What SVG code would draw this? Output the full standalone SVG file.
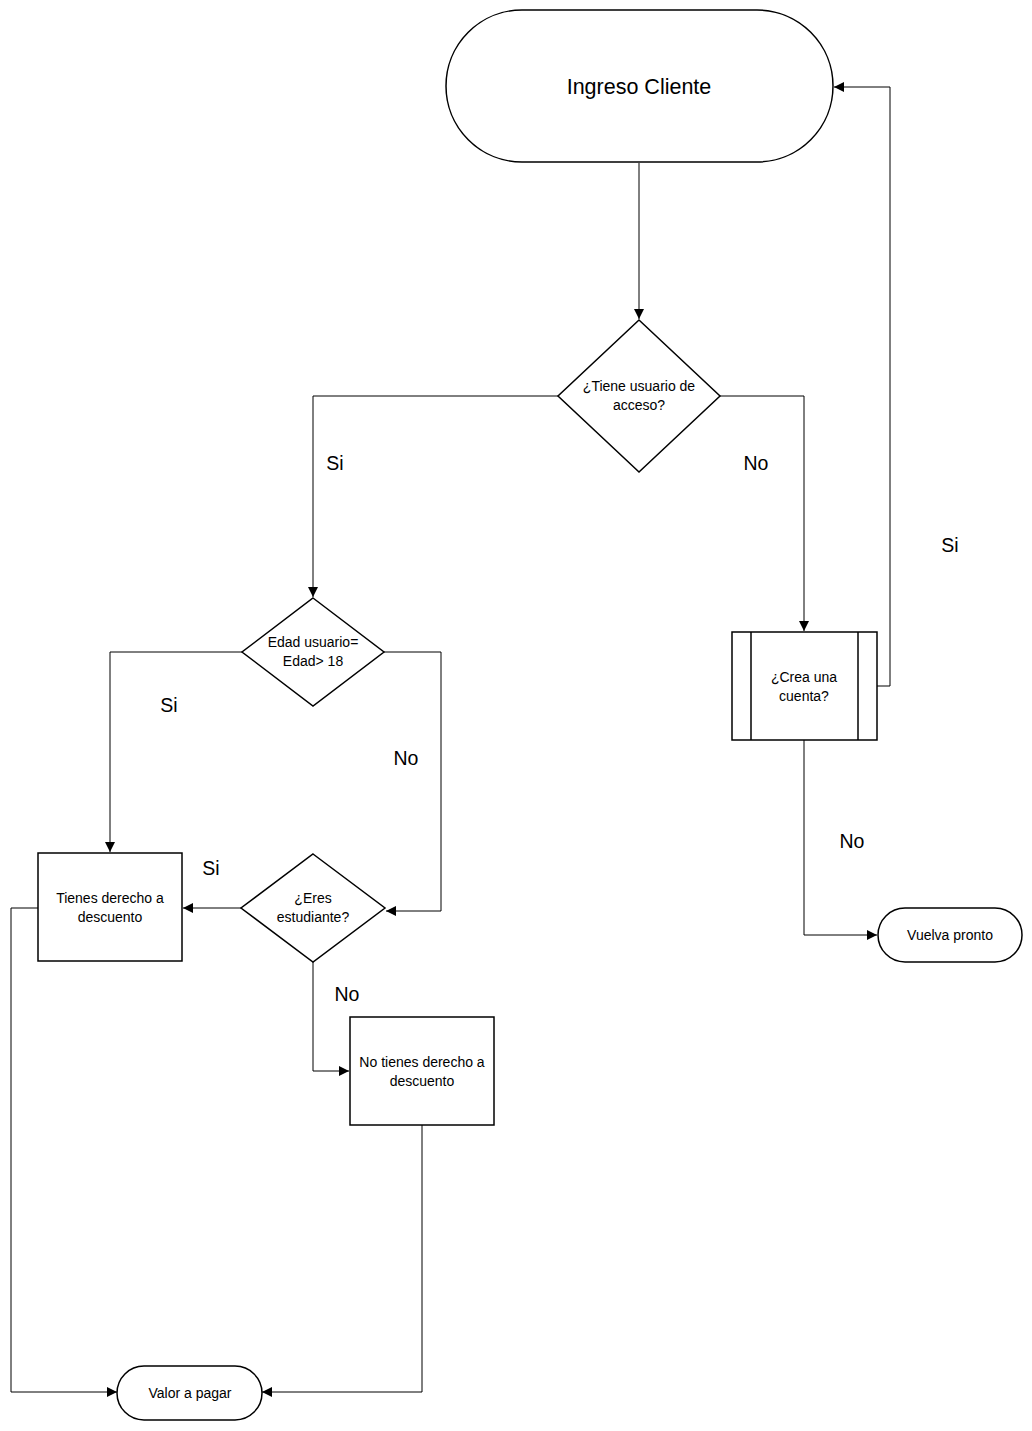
<svg xmlns="http://www.w3.org/2000/svg" width="1032" height="1431" viewBox="0 0 1032 1431">
<defs>
<marker id="arr" viewBox="0 0 10 10" refX="10" refY="5" markerWidth="10" markerHeight="10" markerUnits="userSpaceOnUse" orient="auto">
<path d="M0,0 L10,5 L0,10 z" fill="#000"/>
</marker>
<style>
.n{fill:#fff;stroke:#000;stroke-width:1.5}
.c{fill:none;stroke:#000;stroke-width:1;marker-end:url(#arr)}
.t{font-family:"Liberation Sans",Arial,sans-serif;font-size:14px;fill:#000;text-anchor:middle}
.big{font-size:21.5px}
.lbl{font-family:"Liberation Sans",Arial,sans-serif;font-size:19.5px;fill:#000;text-anchor:middle}
</style>
</defs>
<rect width="1032" height="1431" fill="#fff"/>
<g id="connectors">
<path class="c" d="M639,163 V319"/>
<path class="c" d="M558,396 H313 V597"/>
<path class="c" d="M720,396 H804 V631"/>
<path class="c" d="M242,652 H110 V852"/>
<path class="c" d="M384,652 H441 V911 H386"/>
<path class="c" d="M877,686 H890 V87 H834"/>
<path class="c" d="M804,740 V935 H877"/>
<path class="c" d="M241,908 H183"/>
<path class="c" d="M313,962 V1071 H349"/>
<path class="c" d="M422,1125 V1392 H262"/>
<path class="c" d="M38,908 H11 V1392 H117"/>
</g>
<g id="labels">
<text class="lbl" x="335" y="470">Si</text>
<text class="lbl" x="756" y="470">No</text>
<text class="lbl" x="169" y="712">Si</text>
<text class="lbl" x="406" y="765">No</text>
<text class="lbl" x="950" y="552">Si</text>
<text class="lbl" x="852" y="848">No</text>
<text class="lbl" x="211" y="875">Si</text>
<text class="lbl" x="347" y="1001">No</text>
</g>
<g id="ingreso">
<rect class="n" x="446" y="10" width="387" height="152" rx="76" ry="76"/>
<text class="t big" x="639" y="94">Ingreso Cliente</text>
</g>
<g id="tiene-usuario">
<polygon class="n" points="639,320 720,396 639,472 558,396"/>
<text class="t" x="639" y="391">¿Tiene usuario de</text>
<text class="t" x="639" y="410">acceso?</text>
</g>
<g id="edad">
<polygon class="n" points="313,598 384,652 313,706 242,652"/>
<text class="t" x="313" y="647">Edad usuario=</text>
<text class="t" x="313" y="666">Edad&gt; 18</text>
</g>
<g id="crea-cuenta">
<rect class="n" x="732" y="632" width="145" height="108"/>
<line x1="751" y1="632" x2="751" y2="740" stroke="#000" stroke-width="1.5"/>
<line x1="858" y1="632" x2="858" y2="740" stroke="#000" stroke-width="1.5"/>
<text class="t" x="804" y="682">¿Crea una</text>
<text class="t" x="804" y="701">cuenta?</text>
</g>
<g id="vuelva">
<rect class="n" x="878" y="908" width="144" height="54" rx="27" ry="27"/>
<text class="t" x="950" y="940">Vuelva pronto</text>
</g>
<g id="tienes-descuento">
<rect class="n" x="38" y="853" width="144" height="108"/>
<text class="t" x="110" y="903">Tienes derecho a</text>
<text class="t" x="110" y="922">descuento</text>
</g>
<g id="eres-estudiante">
<polygon class="n" points="313,854 385,908 313,962 241,908"/>
<text class="t" x="313" y="903">¿Eres</text>
<text class="t" x="313" y="922">estudiante?</text>
</g>
<g id="no-descuento">
<rect class="n" x="350" y="1017" width="144" height="108"/>
<text class="t" x="422" y="1067">No tienes derecho a</text>
<text class="t" x="422" y="1086">descuento</text>
</g>
<g id="valor">
<rect class="n" x="117" y="1366" width="145" height="54" rx="27" ry="27"/>
<text class="t" x="190" y="1398">Valor a pagar</text>
</g>
</svg>
